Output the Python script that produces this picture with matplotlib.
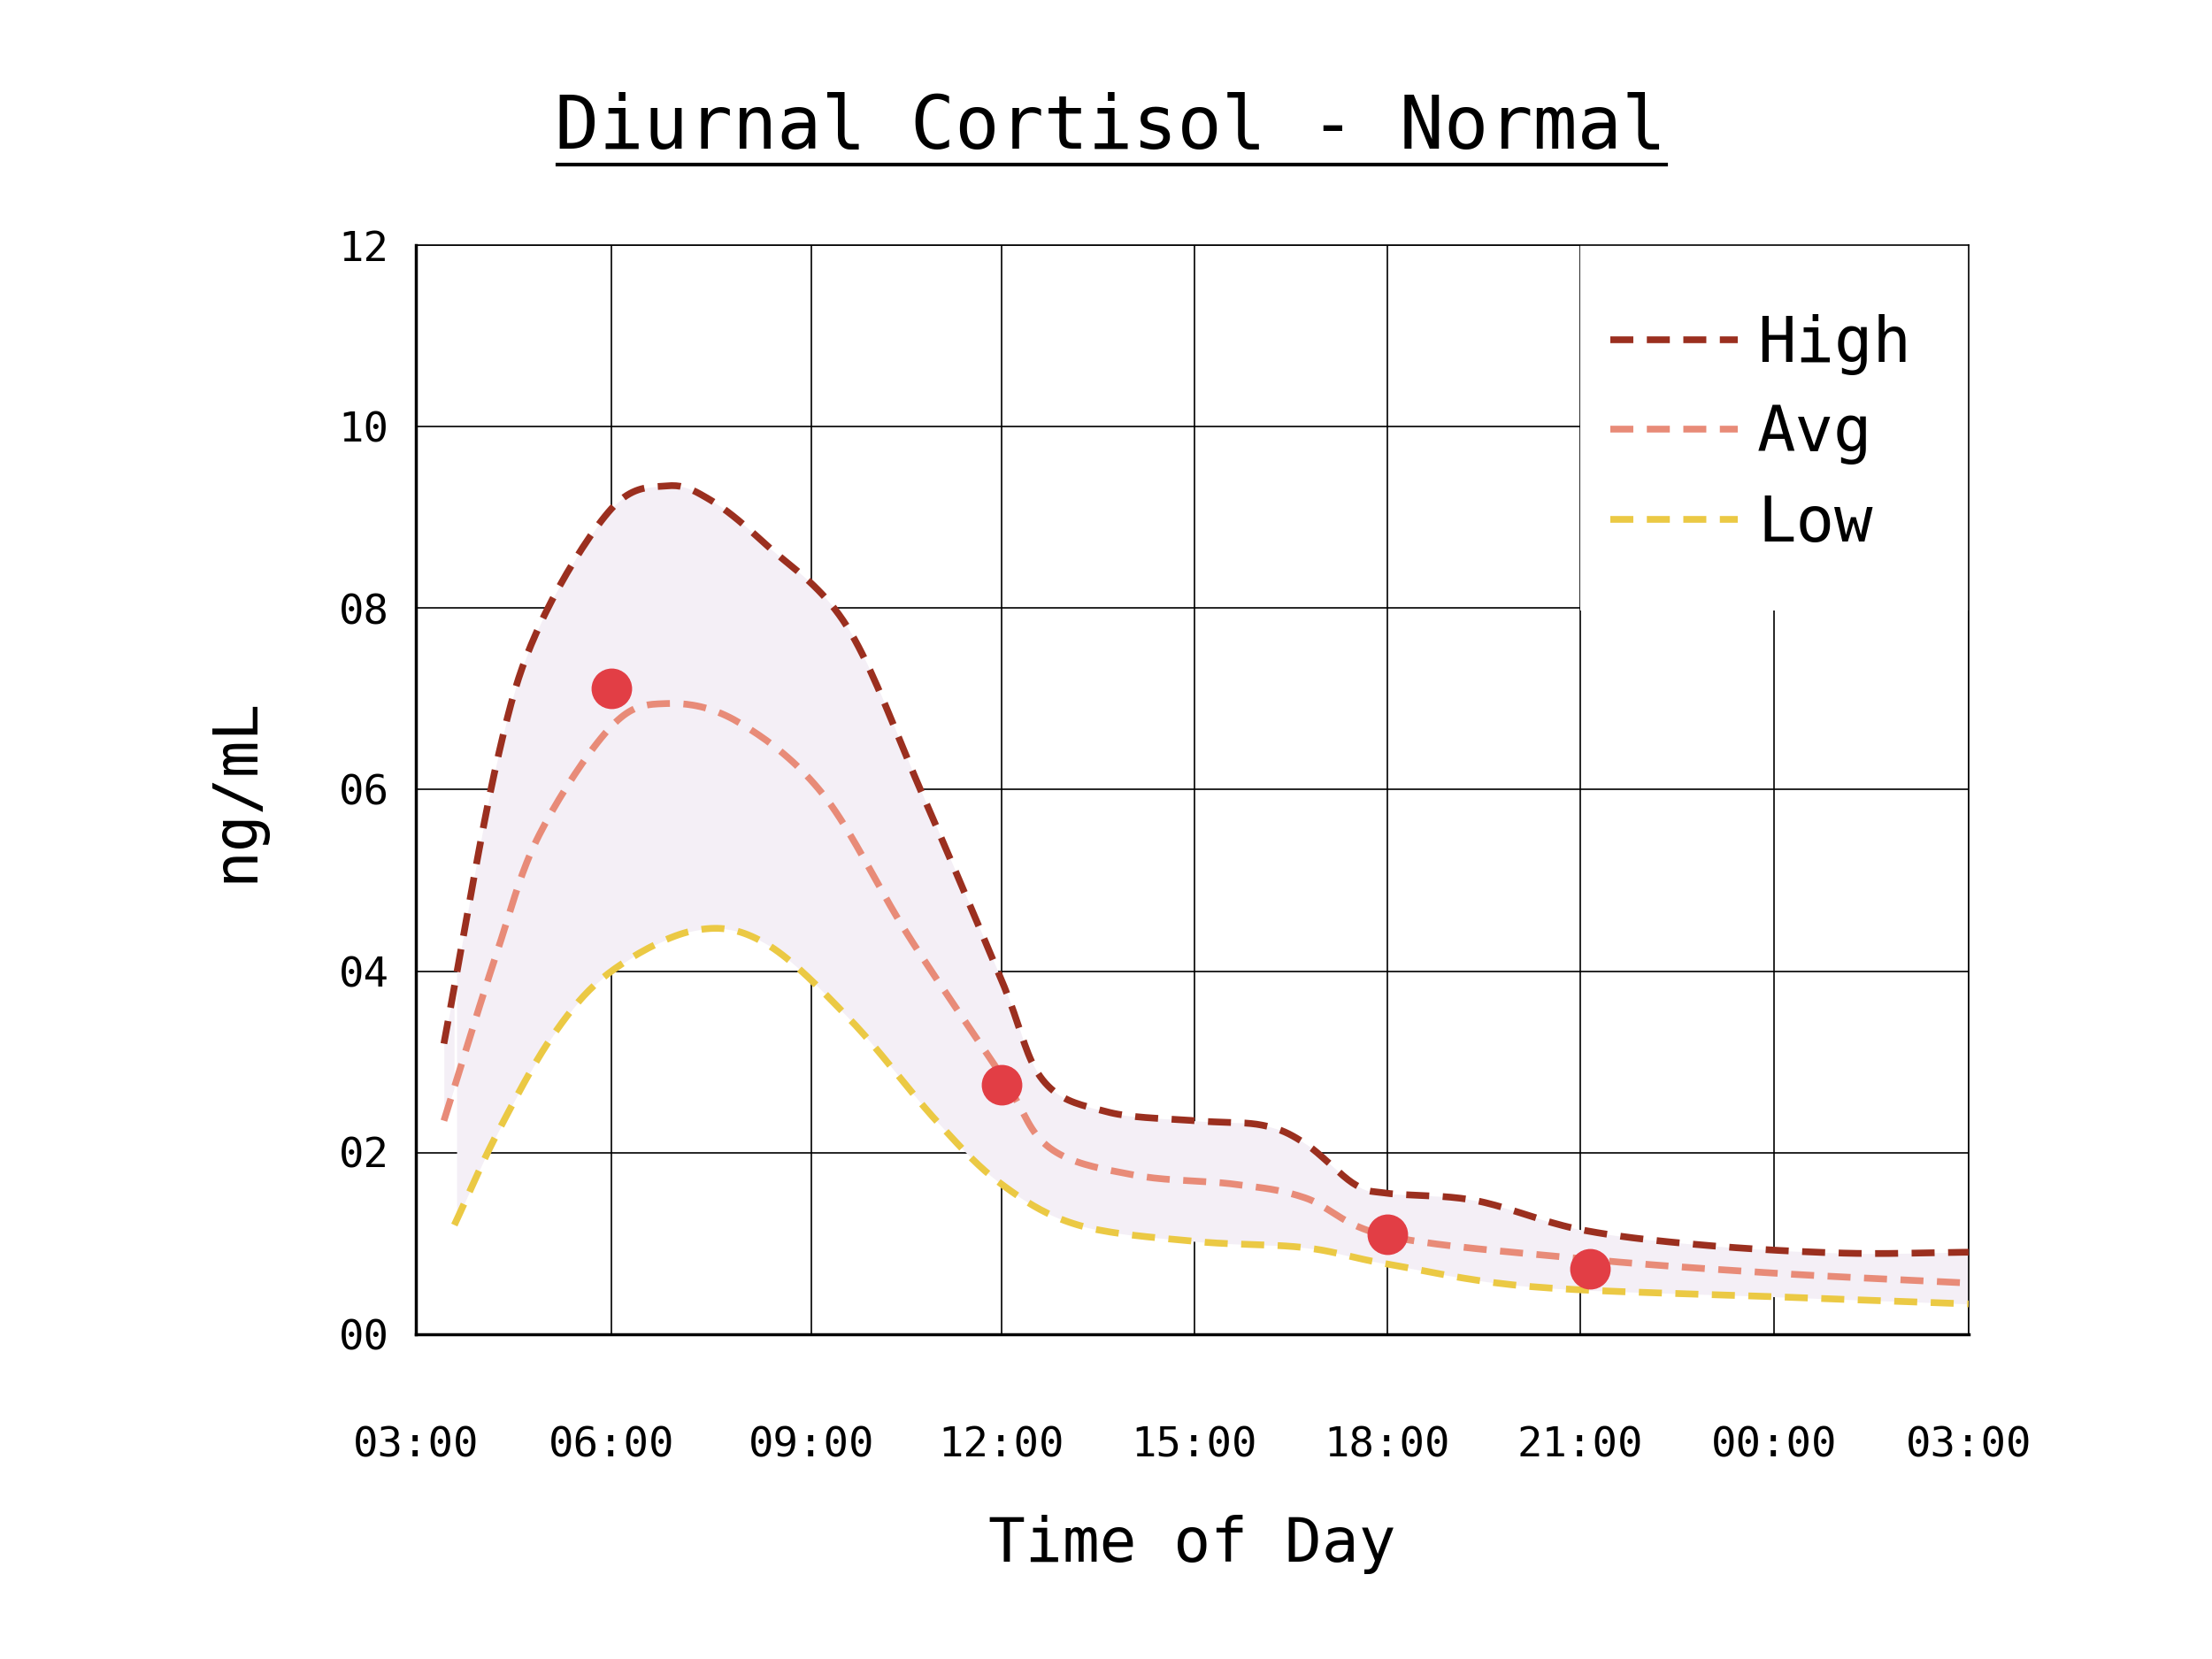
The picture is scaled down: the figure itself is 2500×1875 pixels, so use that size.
import numpy as np
import matplotlib
matplotlib.use("Agg")
from matplotlib import pyplot as plt
from matplotlib.lines import Line2D
from matplotlib.patches import Rectangle

# hours after 03:00
tick_hours = [0, 3, 6, 9, 12, 15, 18, 21, 24]
tick_labels = ["03:00", "06:00", "09:00", "12:00", "15:00", "18:00", "21:00", "00:00", "03:00"]
# axis positions of ticks (uneven spacing in the original)
tick_pos = [0, 138, 279, 413, 549, 685, 821, 958, 1095]

high_h = [0.43, 1.24, 1.89, 3.0, 3.83, 4.47, 5.32, 6.56, 7.75, 9.0, 9.64, 10.63, 12.0, 13.06, 13.72, 14.49, 15.0, 16.37, 18.0, 19.88, 22.07, 24]
high_v = [3.2, 6.3, 7.8, 9.1, 9.35, 9.2, 8.7, 7.8, 5.95, 3.9, 2.8, 2.45, 2.35, 2.3, 2.1, 1.65, 1.55, 1.47, 1.15, 0.98, 0.89, 0.9]
avg_h = [0.43, 1.24, 1.89, 3.0, 3.83, 4.89, 6.18, 7.52, 9.0, 9.75, 11.07, 12.62, 13.72, 15.0, 18.0, 20.98, 24]
avg_v = [2.35, 4.2, 5.5, 6.7, 6.95, 6.75, 5.95, 4.4, 2.85, 2.05, 1.75, 1.65, 1.5, 1.08, 0.83, 0.67, 0.56]
low_h = [0.59, 1.24, 2.11, 3.0, 4.26, 5.32, 6.63, 7.97, 9.0, 10.19, 12.0, 13.72, 15.0, 17.25, 20.98, 24]
low_v = [1.2, 2.2, 3.3, 4.0, 4.45, 4.3, 3.45, 2.35, 1.65, 1.2, 1.02, 0.95, 0.77, 0.52, 0.41, 0.33]
pt_h = [3.0, 9.0, 15.0, 18.15]
pt_v = [7.12, 2.75, 1.1, 0.72]


def pos(h):
    return np.interp(h, tick_hours, tick_pos)


def smooth(x, y, n=20):
    # catmull-rom through the read points
    x = np.asarray(x, float); y = np.asarray(y, float)
    px = np.concatenate([[2*x[0]-x[1]], x, [2*x[-1]-x[-2]]])
    py = np.concatenate([[2*y[0]-y[1]], y, [2*y[-1]-y[-2]]])
    t = np.linspace(0, 1, n, endpoint=False)
    ox, oy = [], []
    for i in range(1, len(px)-2):
        for arr, out in ((px, ox), (py, oy)):
            p0, p1, p2, p3 = arr[i-1:i+3]
            out.extend(0.5*((2*p1) + (-p0+p2)*t + (2*p0-5*p1+4*p2-p3)*t**2 + (-p0+3*p1-3*p2+p3)*t**3))
    ox.append(x[-1]); oy.append(y[-1])
    return np.array(ox), np.array(oy)


DASH = (0, (3.4, 2.0))
plt.rcParams["font.family"] = "DejaVu Sans Mono"
fig = plt.figure(figsize=(25, 18.75), dpi=100)
ax = fig.add_axes([0.188, 0.196, 0.702, 0.656])

hx, hy = smooth(pos(high_h), high_v)
ax_, ay = smooth(pos(avg_h), avg_v)
lx, ly = smooth(pos(low_h), low_v)

grid_x = np.linspace(hx[0], 1095, 600)
ax.fill_between(grid_x, np.interp(grid_x, hx, hy), np.interp(grid_x, lx, ly, left=np.nan),
                color="#f4eff6", lw=0, zorder=1)
ax.fill_between(grid_x[grid_x <= lx[0]], np.interp(grid_x[grid_x <= lx[0]], hx, hy),
                np.interp(grid_x[grid_x <= lx[0]], ax_, ay), color="#f4eff6", lw=0, zorder=1)

ax.plot(hx, hy, ls=DASH, color="#9b2f1f", lw=5.5, zorder=3)
ax.plot(ax_, ay, ls=DASH, color="#e88b78", lw=5.5, zorder=3)
ax.plot(lx, ly, ls=DASH, color="#ebc944", lw=5.5, zorder=3)
ax.plot(pos(pt_h), pt_v, "o", color="#e23e45", ms=32, zorder=4)

ax.set_xlim(0, 1095)
ax.set_ylim(0, 12)
ax.set_xticks(tick_pos)
ax.set_xticklabels(tick_labels, fontsize=34)
ax.set_yticks(range(0, 13, 2))
ax.set_yticklabels(["%02d" % v for v in range(0, 13, 2)], fontsize=34)
ax.tick_params(length=0, pad=22)
ax.tick_params(axis="x", pad=75)
ax.grid(True, color="black", lw=1.2, zorder=0)
ax.set_axisbelow(True)
for s in ax.spines.values():
    s.set_linewidth(1.2)
ax.spines["left"].set_linewidth(2.5)
ax.spines["bottom"].set_linewidth(2.5)

# white legend box covering the grid
ax.add_patch(Rectangle((0.75, 0.665), 0.25, 0.335, transform=ax.transAxes,
                       facecolor="white", edgecolor="none", zorder=2))
handles = [Line2D([], [], ls=DASH, lw=5.5, color=c) for c in ["#9b2f1f", "#e88b78", "#ebc944"]]
leg = ax.legend(handles, ["High", "Avg", "Low"], loc="upper right", frameon=False,
                fontsize=52, handlelength=2.0, handletextpad=0.3, labelspacing=0.45,
                bbox_to_anchor=(1.0, 0.99))
leg.set_zorder(5)

ax.set_xlabel("Time of Day", fontsize=50, labelpad=40)
ax.set_ylabel("ng/mL", fontsize=50, labelpad=60)

fig.text(0.502, 0.923, "Diurnal Cortisol - Normal", ha="center", va="center", fontsize=60)
fig.lines.append(Line2D([0.252, 0.753], [0.901, 0.901], transform=fig.transFigure, color="black", lw=3))

plt.savefig("out.png", dpi=100)
